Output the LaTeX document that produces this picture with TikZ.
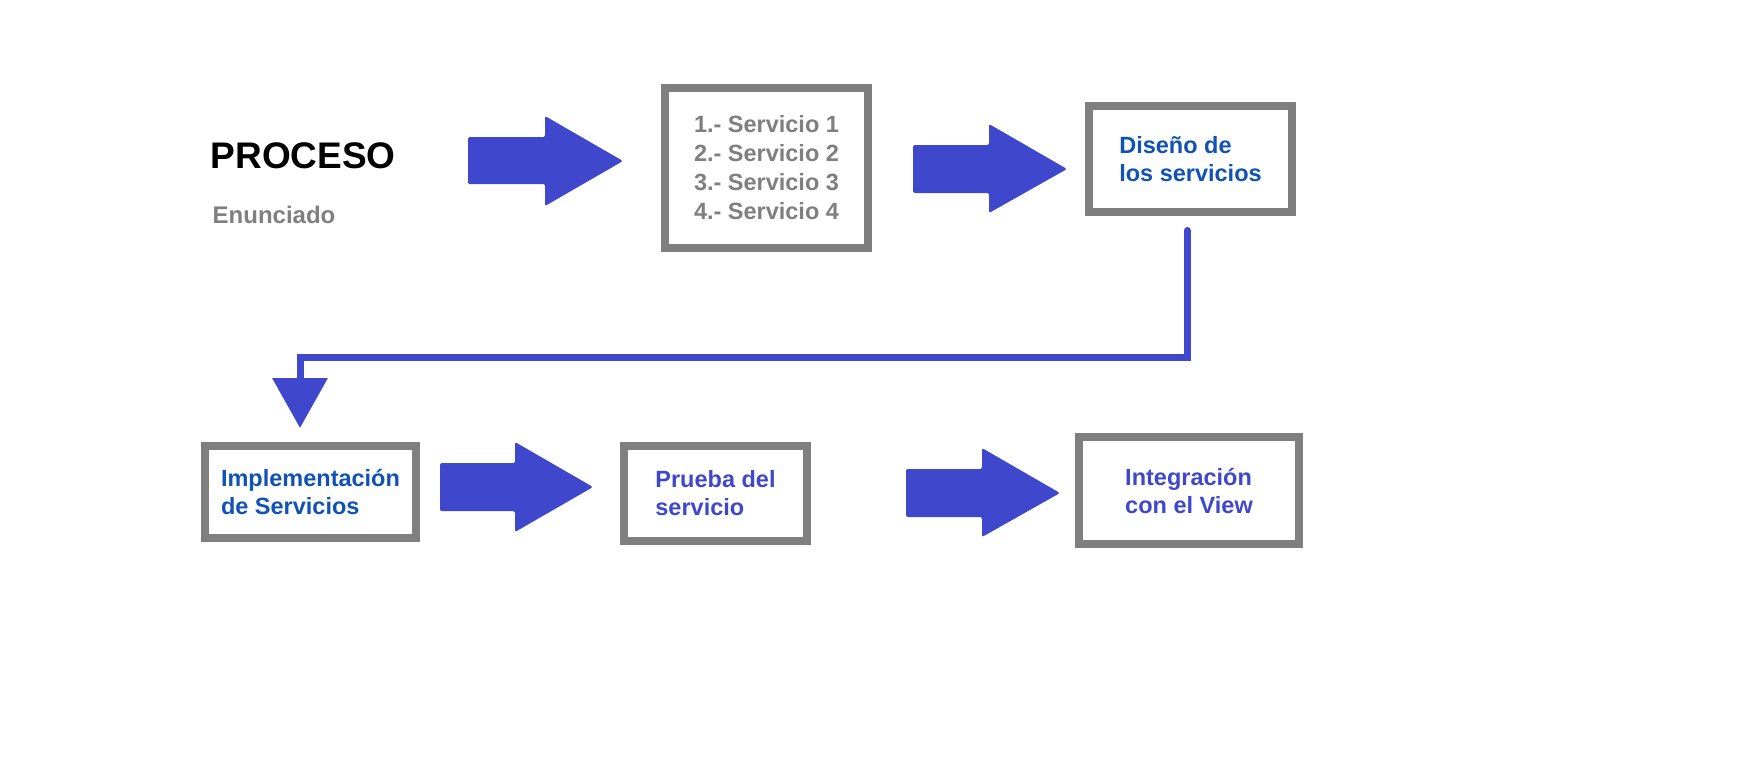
\documentclass[tikz,border=0pt]{standalone}
\usepackage{fontspec}
\setmainfont{Liberation Sans}
\usepackage{tikz}
\usetikzlibrary{arrows.meta}
\definecolor{paintblue}{RGB}{63,72,204}
\definecolor{paintgray}{RGB}{127,127,127}
\definecolor{textblue}{RGB}{16,82,182}

\begin{document}
\begin{tikzpicture}[x=1pt, y=-1pt,
        box/.style={draw=paintgray, line width=8pt, fill=white, align=left, inner sep=0pt,
            font=\bfseries\fontsize{23.5}{28}\selectfont},
        conn/.style={draw=paintblue, line width=7pt, line join=miter}]
            \useasboundingbox (0,0) rectangle (1762,780);
            \node [anchor=base west, inner sep=0pt, font=\bfseries\fontsize{37}{44}\selectfont] (proc) at (210.5,168) {PROCESO};
            \node [anchor=base west, inner sep=0pt, text=paintgray, font=\bfseries\fontsize{24}{29}\selectfont] (enun) at (212.5,223) {Enunciado};
            \node [box, text=paintgray, font=\bfseries\fontsize{23.5}{29}\selectfont, minimum width=203pt, minimum height=160pt] (srv) at (766.5,168) {1.- Servicio 1\\2.- Servicio 2\\3.- Servicio 3\\4.- Servicio 4};
            \node [box, text=textblue, minimum width=203pt, minimum height=106pt] (dis) at (1190.5,159) {Diseño de\\los servicios};
            \node [box, text=textblue, minimum width=211pt, minimum height=92pt] (imp) at (310.5,492) {Implementación\\de Servicios};
            \node [box, text=paintblue, minimum width=183pt, minimum height=95pt] (pru) at (715.5,493.5) {Prueba del\\servicio};
            \node [box, text=paintblue, minimum width=220pt, minimum height=107pt] (int) at (1189,490.5) {Integración\\con el View};
            \fill [paintblue, rounded corners=1.5pt] (468,137) -- (545,137) -- (545,116) -- (623,161) -- (545,206) -- (545,184) -- (468,184) -- cycle;
            \fill [paintblue, rounded corners=1.5pt] (913,145) -- (989,145) -- (989,124) -- (1067,169) -- (989,213) -- (989,193) -- (913,193) -- cycle;
            \fill [paintblue, rounded corners=1.5pt] (440,463) -- (515,463) -- (515,442) -- (593,487) -- (515,532) -- (515,511) -- (440,511) -- cycle;
            \fill [paintblue, rounded corners=1.5pt] (906,469) -- (982,469) -- (982,448) -- (1060,493) -- (982,537) -- (982,517) -- (906,517) -- cycle;
            \coordinate (top) at ([xshift=-3.5pt,yshift=-14.5pt]dis.south);
            \coordinate (tip) at ([xshift=-10.5pt,yshift=14pt]imp.north);
            \draw [conn, line cap=round, -{Triangle[width=54pt,length=50pt]}] (top) |- (tip |- 0,357) -- (tip);
        \end{tikzpicture}
\end{document}
